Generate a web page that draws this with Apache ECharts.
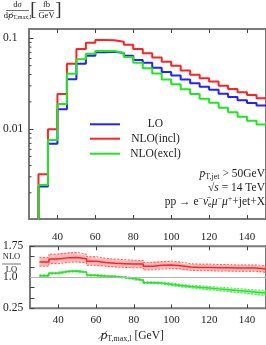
<!DOCTYPE html>
<html><head><meta charset="utf-8">
<script src="https://cdn.jsdelivr.net/npm/echarts@6/dist/echarts.min.js"></script>
<style>html,body{margin:0;padding:0;background:#fff}#c{width:266px;height:345px}</style>
</head><body><div id="c"></div>
<script>
// ---- data ----
const binEdges = [30,35,40,45,50,55,60,65,70,75,80,85,90,95,100,105,110,115,120,125,130,135,140,145,150];
const loValues = [0.00234,0.00694,0.0166,0.0354,0.0526,0.0644,0.0702,0.0709,0.0688,0.0642,0.0578,0.0539,0.0475,0.0425,0.0390,0.0353,0.0321,0.0293,0.0272,0.0245,0.0226,0.0208,0.0194,0.01825];
const nloInclValues = [0.0032,0.0100,0.0244,0.0524,0.0763,0.0895,0.0955,0.0950,0.0915,0.0848,0.0763,0.0684,0.0613,0.0553,0.0500,0.0441,0.0398,0.0363,0.0334,0.0301,0.0277,0.0255,0.0238,0.0219];
const nloExclValues = [0.00244,0.0076,0.0189,0.0407,0.0589,0.0676,0.0723,0.0723,0.0688,0.0623,0.0538,0.0469,0.0409,0.0353,0.0312,0.0275,0.0244,0.0217,0.0196,0.0172,0.0154,0.0137,0.0124,0.0113];
const ratioIncl     = [1.37,1.44,1.47,1.48,1.45,1.39,1.36,1.34,1.33,1.32,1.32,1.27,1.29,1.30,1.28,1.25,1.24,1.24,1.23,1.23,1.225,1.225,1.225,1.20];
const ratioInclLow  = [1.27,1.33,1.36,1.37,1.35,1.29,1.27,1.25,1.24,1.23,1.23,1.18,1.20,1.21,1.20,1.17,1.16,1.16,1.15,1.15,1.145,1.145,1.145,1.12];
const ratioInclHigh = [1.48,1.56,1.59,1.60,1.56,1.50,1.46,1.44,1.43,1.41,1.41,1.36,1.38,1.39,1.37,1.33,1.32,1.32,1.31,1.31,1.30,1.30,1.30,1.28];
const ratioExcl     = [1.04,1.10,1.14,1.15,1.12,1.05,1.03,1.02,1.00,0.97,0.93,0.87,0.86,0.83,0.80,0.78,0.76,0.74,0.72,0.70,0.68,0.66,0.64,0.62];
const ratioExclLow  = [1.02,1.08,1.12,1.13,1.10,1.03,1.01,1.00,0.98,0.95,0.91,0.85,0.835,0.80,0.77,0.75,0.725,0.70,0.68,0.655,0.63,0.61,0.585,0.56];
const ratioExclHigh = [1.06,1.12,1.16,1.17,1.14,1.07,1.05,1.04,1.02,0.99,0.95,0.89,0.885,0.86,0.83,0.81,0.795,0.78,0.76,0.745,0.73,0.71,0.695,0.68];
const xTickValues = [40,60,80,100,120,140];
const logMinorTicks = [0.002,0.003,0.004,0.005,0.006,0.007,0.008,0.009,0.02,0.03,0.04,0.05,0.06,0.07,0.08,0.09];
const ratioLabelValues = [0.25,1.0,1.75];
const ratioLabelTexts = ['0.25','1.0','1.75'];
const legendNames = ['LO','NLO(incl)','NLO(excl)'];

// ---- styling ----
const X_MIN = 25, X_MAX = 150;
const RED = '#ff2222', BLUE = '#2222ff', GREEN = '#22e622';
const FRAME = '#7a7a7a';
const FONT = 'Liberation Serif';
const BELOW = 1e-5;

function steps(vals, drop) {
  const pts = [];
  if (drop) pts.push([binEdges[0], BELOW]);
  vals.forEach((v, i) => pts.push([binEdges[i], v]));
  pts.push([binEdges[binEdges.length - 1], vals[vals.length - 1]]);
  return pts;
}
function bandData(lowA, highA) {
  return lowA.map((l, i) => [binEdges[i], binEdges[i + 1], l, highA[i]]);
}
function stepLine(name, vals, xi, yi, color, width, type, drop, z) {
  return { name, type: 'line', xAxisIndex: xi, yAxisIndex: yi, data: steps(vals, drop), step: 'end',
    showSymbol: false, symbol: 'none', silent: true, animation: false, z: z || 2,
    lineStyle: { color, width, type: type || 'solid' } };
}
function band(lowA, highA, fill) {
  return { type: 'custom', xAxisIndex: 2, yAxisIndex: 1, data: bandData(lowA, highA), silent: true, animation: false, z: 1,
    encode: { x: [0, 1], y: [2, 3] }, clip: true,
    renderItem(params, api) {
      const p0 = api.coord([api.value(0), api.value(3)]);
      const p1 = api.coord([api.value(1), api.value(2)]);
      return { type: 'rect', shape: { x: p0[0], y: p0[1], width: p1[0] - p0[0], height: p1[1] - p0[1] }, style: { fill } };
    } };
}
const tickStyle = { color: '#444', width: 1 };
function xAx(grid, pos, labels, margin) {
  return { gridIndex: grid, type: 'value', min: X_MIN, max: X_MAX, position: pos,
    axisLine: { show: false }, splitLine: { show: false },
    axisTick: { show: true, inside: true, length: 4, customValues: xTickValues, lineStyle: tickStyle },
    axisLabel: { show: labels, customValues: xTickValues, margin: margin, fontFamily: FONT, fontSize: 11, color: '#222' } };
}

const chart = echarts.init(document.getElementById('c'), null, { renderer: 'canvas' });
const mainSeries = [
  stepLine('LO', loValues, 0, 0, BLUE, 2, 'solid', true, 3),
  stepLine('NLO(incl)', nloInclValues, 0, 0, RED, 2, 'solid', true, 3),
  stepLine('NLO(excl)', nloExclValues, 0, 0, GREEN, 2, 'solid', true, 3),
  { type: 'custom', xAxisIndex: 0, yAxisIndex: 0, data: logMinorTicks.map(v => [X_MIN, v]), silent: true, animation: false, z: 5,
    encode: { x: 0, y: 1 },
    renderItem(params, api) {
      const p = api.coord([api.value(0), api.value(1)]);
      return { type: 'line', shape: { x1: p[0], y1: p[1], x2: p[0] + 2.5, y2: p[1] }, style: { stroke: '#444', lineWidth: 1 } };
    } }
];
const redCenter = stepLine('r1', ratioIncl, 2, 1, RED, 1.5, 'solid', false, 4);
redCenter.markLine = { silent: true, symbol: 'none', animation: false, label: { show: false },
  lineStyle: { color: '#b4b4b4', width: 1, type: 'solid' }, data: [{ yAxis: 1 }] };
const ratioSeries = [
  band(ratioInclLow, ratioInclHigh, 'rgba(255,60,60,0.35)'),
  stepLine('r1l', ratioInclLow, 2, 1, 'rgba(255,40,40,0.75)', 1, [2, 1.5], false, 3),
  stepLine('r1h', ratioInclHigh, 2, 1, 'rgba(255,40,40,0.75)', 1, [2, 1.5], false, 3),
  redCenter,
  band(ratioExclLow, ratioExclHigh, 'rgba(40,230,40,0.35)'),
  stepLine('r2l', ratioExclLow, 2, 1, 'rgba(30,220,30,0.75)', 1, [2, 1.5], false, 3),
  stepLine('r2h', ratioExclHigh, 2, 1, 'rgba(30,220,30,0.75)', 1, [2, 1.5], false, 3),
  stepLine('r2', ratioExcl, 2, 1, GREEN, 1.5, 'solid', false, 4)
];

const legendY = [124.3, 138.7, 153.7];
const legendColors = [BLUE, RED, GREEN];
const graphics = [];
legendNames.forEach((n, i) => {
  graphics.push({ type: 'line', shape: { x1: 90, y1: legendY[i], x2: 120, y2: legendY[i] }, style: { stroke: legendColors[i], lineWidth: 2 } });
  graphics.push({ type: 'text', x: 155.5, y: legendY[i], style: { text: n, font: '11.5px "' + FONT + '"', fill: '#222', align: 'center', verticalAlign: 'middle' } });
});
const rich = {
  n: { fontFamily: FONT, fontSize: 11.5, lineHeight: 14, color: '#222' },
  i: { fontFamily: FONT, fontSize: 11.5, fontStyle: 'italic', lineHeight: 14, color: '#222' },
  ps: { fontFamily: 'DejaVu Serif', fontSize: 11, fontStyle: 'italic', lineHeight: 14, color: '#222' },
  sb: { fontFamily: FONT, fontSize: 8, lineHeight: 8, verticalAlign: 'bottom', color: '#222' },
  sp: { fontFamily: FONT, fontSize: 8, lineHeight: 8, verticalAlign: 'top', color: '#222' }
};
function richText(x, y, text, align) {
  return { type: 'text', x, y, style: { text, rich, align: align, verticalAlign: 'middle', fill: '#222', font: '11.5px "' + FONT + '"' } };
}
graphics.push(richText(265, 174, '{i|p}{sb|T,jet}{n| > 50GeV}', 'right'));
graphics.push(richText(265, 188, '{n|√}{i|s}{n| = 14 TeV}', 'right'));
graphics.push(richText(265, 201.7, '{n|pp → e}{sp|−}{i|ν̄}{sb|e}{i|μ}{sp|−}{i|μ}{sp|+}{n|+jet+X}', 'right'));
// x axis title
graphics.push(richText(132, 336, '{ps|p\u0338}{sb|T,max,l}{n| [GeV]}', 'center'));
// y title
const smallRich = {
  n: { fontFamily: FONT, fontSize: 8.5, lineHeight: 10, color: '#222' },
  i: { fontFamily: FONT, fontSize: 8.5, fontStyle: 'italic', lineHeight: 10, color: '#222' },
  ps: { fontFamily: 'DejaVu Serif', fontSize: 8, fontStyle: 'italic', lineHeight: 10, color: '#222' },
  sb: { fontFamily: FONT, fontSize: 6, lineHeight: 6, verticalAlign: 'bottom', color: '#222' }
};
function smallText(x, y, text) {
  return { type: 'text', x, y, style: { text, rich: smallRich, align: 'center', verticalAlign: 'middle', font: '8.5px "' + FONT + '"', fill: '#222' } };
}
graphics.push(smallText(17.5, 5, '{n|d}{i|σ}'));
graphics.push({ type: 'line', shape: { x1: 6, y1: 10.5, x2: 29, y2: 10.5 }, style: { stroke: '#333', lineWidth: 0.7 } });
graphics.push(smallText(17.5, 15.5, '{n|d}{ps|p\u0338}{sb|T,max,l}'));
graphics.push({ type: 'text', x: 33.5, y: 10, style: { text: '[', font: '19px "' + FONT + '"', fill: '#333', align: 'center', verticalAlign: 'middle' } });
graphics.push(smallText(46.5, 5, '{n|fb}'));
graphics.push({ type: 'line', shape: { x1: 39, y1: 10.5, x2: 54, y2: 10.5 }, style: { stroke: '#333', lineWidth: 0.7 } });
graphics.push(smallText(46.5, 15.5, '{n|GeV}'));
graphics.push({ type: 'text', x: 58.5, y: 10, style: { text: ']', font: '19px "' + FONT + '"', fill: '#333', align: 'center', verticalAlign: 'middle' } });
// NLO/LO
graphics.push(smallText(11.5, 257, '{n|NLO}'));
graphics.push({ type: 'line', shape: { x1: 2, y1: 264, x2: 21, y2: 264 }, style: { stroke: '#333', lineWidth: 0.7 } });
graphics.push(smallText(11.5, 269.5, '{n|LO}'));

chart.setOption({
  animation: false,
  backgroundColor: '#fff',
  grid: [
    { left: 29, top: 29, right: -4, height: 190, show: true, borderColor: FRAME, borderWidth: 2, backgroundColor: 'transparent' },
    { left: 29, top: 246.3, right: -4, height: 62, show: true, borderColor: FRAME, borderWidth: 2, backgroundColor: 'transparent' }
  ],
  xAxis: [ xAx(0, 'bottom', true, 13), xAx(0, 'top', false, 8), xAx(1, 'bottom', true, 6), xAx(1, 'top', false, 8) ],
  yAxis: [
    { gridIndex: 0, type: 'log', logBase: 10, min: 0.00103, max: 0.1265,
      axisLine: { show: false }, splitLine: { show: false },
      axisTick: { show: true, inside: true, length: 4.5, lineStyle: tickStyle },
      minorTick: { show: false },
      axisLabel: { showMinLabel: false, showMaxLabel: false, margin: 26, align: 'left', fontFamily: FONT, fontSize: 11.5, color: '#222',
        formatter: v => { const l = Math.log10(v); return Math.abs(l - Math.round(l)) < 1e-6 ? String(+v.toPrecision(3)) : ''; } } },
    { gridIndex: 1, type: 'value', min: 0.25, max: 1.75, interval: 0.25,
      axisLine: { show: false }, splitLine: { show: false },
      axisTick: { show: true, inside: true, length: 4.5, lineStyle: tickStyle },
      axisLabel: { margin: 27, align: 'left', fontFamily: FONT, fontSize: 11.5, color: '#222',
        formatter: v => { const k = ratioLabelValues.findIndex(r => Math.abs(r - v) < 1e-6); return k >= 0 ? ratioLabelTexts[k] : ''; } } }
  ],
  series: mainSeries.concat(ratioSeries),
  graphic: graphics
});
</script></body></html>
